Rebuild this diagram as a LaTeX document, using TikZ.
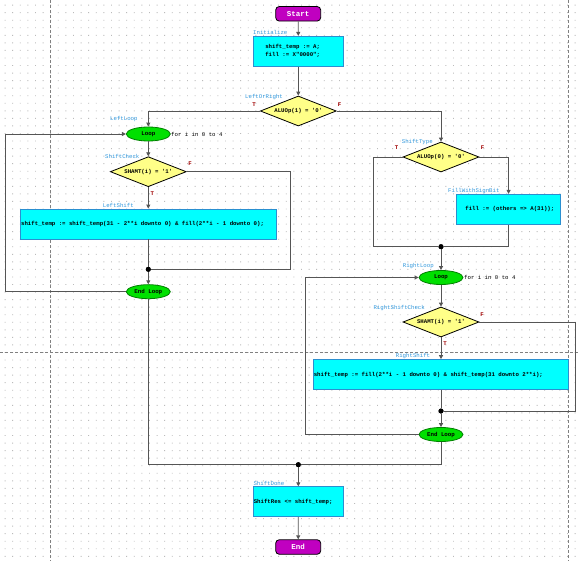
\documentclass[tikz,border=0pt]{standalone}
\usepackage{fontspec}
\newfontfamily\vh{Liberation Mono}
\newfontfamily\vhb{Liberation Mono Bold}
\usetikzlibrary{shapes.geometric,arrows.meta}
\definecolor{linec}{HTML}{555555}
\definecolor{termc}{HTML}{C000C0}
\definecolor{boxc}{HTML}{00FFFF}
\definecolor{boxb}{HTML}{2A8FD0}
\definecolor{decc}{HTML}{FFFF88}
\definecolor{loopc}{HTML}{00E000}
\definecolor{loopb}{HTML}{008000}
\definecolor{lblc}{HTML}{3399DD}
\definecolor{tfc}{HTML}{A00000}
\definecolor{dotc}{HTML}{BBBBBB}
\definecolor{dashc}{HTML}{808080}
\newcommand\qq{\textquotesingle}
\newcommand\bx[3]{\makebox[#1][l]{\hspace*{#2}#3}}
\tikzset{
  ln/.style={draw=linec, line width=0.9pt},
  arr/.style={-{Triangle[length=4pt,width=4pt]}},
  term/.style={draw=black, line width=0.8pt, fill=termc, rounded corners=3.5pt, minimum width=45pt, minimum height=14.5pt, inner sep=0pt, text=white, font=\vhb\fontsize{7.5}{8}\selectfont},
  actbox/.style={draw=boxb, line width=0.8pt, fill=boxc, inner sep=0pt, minimum height=30pt, font=\vhb\fontsize{5.7}{8}\selectfont},
  dec/.style={diamond, draw=black, line width=0.8pt, fill=decc, aspect=2.6, minimum width=76pt, minimum height=30pt, inner sep=0pt, font=\vhb\fontsize{5.7}{7}\selectfont},
  loopn/.style={ellipse, draw=loopb, line width=0.8pt, fill=loopc, minimum width=44pt, minimum height=14pt, inner sep=0pt, font=\vhb\fontsize{5.8}{7}\selectfont},
  lbl/.style={anchor=base west, text=lblc, font=\vh\fontsize{5.7}{7}\selectfont, inner sep=0pt},
  tf/.style={text=tfc, font=\vhb\fontsize{5.7}{7}\selectfont, inner sep=0pt},
  note/.style={anchor=west, font=\vh\fontsize{5.7}{7}\selectfont, inner sep=0pt},
  jn/.style={circle, fill=black, minimum size=5pt, inner sep=0pt},
}
\begin{document}
\begin{tikzpicture}[x=1pt,y=-1pt]
\useasboundingbox (0,0) rectangle (580,561);
\fill[white] (0,0) rectangle (580,561);
% grid
\fill[dotc] \foreach \i in {0,...,75}{\foreach \j in {0,...,73}{(4.6+7.6*\i,5.6+7.55*\j) rectangle ++(0.9,-0.9)}};
% page breaks
\draw[dashc, line width=0.7pt, dash pattern=on 3pt off 2pt] (50,0) -- (50,561);
\draw[dashc, line width=0.7pt, dash pattern=on 3pt off 2pt] (568.5,0) -- (568.5,561);
\draw[dashc, line width=0.7pt, dash pattern=on 3pt off 2pt] (0,352.3) -- (580,352.3);

% nodes
\node[term] (start) at (298.2,13.8) {Start};
\node[actbox, minimum width=90pt] (init) at (298.3,51.3) {\parbox{90pt}{\hspace*{12pt}shift\_temp := A;\\\hspace*{12pt}fill := X"0000";}};
\node[dec] (lor) at (298.3,111) {ALUOp(1) = \qq0\qq};
\node[loopn] (lloop) at (148.3,134) {Loop};
\node[dec] (lcheck) at (148.3,171.7) {SHAMT(i) = \qq1\qq};
\node[actbox, minimum width=255.3pt] (lshift) at (148.3,224) {\bx{255.3pt}{0.5pt}{shift\_temp := shift\_temp(31 - 2**i downto 0) \& fill(2**i - 1 downto 0);}};
\node[jn] (ljoin) at (148.3,269.3) {};
\node[loopn] (lend) at (148.3,291.7) {End Loop};

\node[dec] (stype) at (441,157) {ALUOp(0) = \qq0\qq};
\node[actbox, minimum width=104.5pt] (fill) at (508.6,209.3) {\bx{104.5pt}{9pt}{fill := (others => A(31));}};
\node[jn] (rjoin1) at (441,246.7) {};
\node[loopn] (rloop) at (441,277.5) {Loop};
\node[dec] (rcheck) at (441,322) {SHAMT(i) = \qq1\qq};
\node[actbox, minimum width=255.5pt] (rshift) at (441,374.5) {\bx{255.5pt}{0.5pt}{shift\_temp := fill(2**i - 1 downto 0) \& shift\_temp(31 downto 2**i);}};
\node[jn] (rjoin2) at (441,411) {};
\node[loopn] (rend) at (441,434.5) {End Loop};

\node[jn] (join) at (298.3,464.7) {};
\node[actbox, minimum width=90pt] (done) at (298.3,501.7) {\bx{90pt}{0.5pt}{ShiftRes <= shift\_temp;}};
\node[term] (end) at (298.2,547) {End};

% helper coordinates
\coordinate (lf) at (290.7,269.3);
\coordinate (lback) at (5.3,291.7);
\coordinate (tb) at (373.3,246.7);
\coordinate (rf) at (575,411);
\coordinate (rback) at (305.7,434.5);

% connectors
\draw[ln,arr] (start) -- (init);
\draw[ln,arr] (init) -- (lor);
\draw[ln,arr] (lor.west) -| (lloop.north);
\draw[ln,arr] (lor.east) -| (stype.north);
\draw[ln,arr] (lloop) -- (lcheck);
\draw[ln,arr] (lcheck.south) -- (lshift.north);
\draw[ln] (lshift.south) -- (ljoin);
\draw[ln] (lcheck.east) -| (lf) -- (ljoin);
\draw[ln,arr] (ljoin) -- (lend);
\draw[ln,arr] (lend.west) -- (lback) |- (lloop.west);
\draw[ln] (lend.south) |- (join);

\draw[ln] (stype.west) -| (tb) -- (rjoin1);
\draw[ln,arr] (stype.east) -| (fill.north);
\draw[ln] (fill.south) |- (rjoin1);
\draw[ln,arr] (rjoin1) -- (rloop);
\draw[ln,arr] (rloop) -- (rcheck);
\draw[ln,arr] (rcheck.south) -- (rshift.north);
\draw[ln] (rshift.south) -- (rjoin2);
\draw[ln] (rcheck.east) -| (rf) -- (rjoin2);
\draw[ln,arr] (rjoin2) -- (rend);
\draw[ln,arr] (rend.west) -- (rback) |- (rloop.west);
\draw[ln] (rend.south) |- (join);
\draw[ln,arr] (join) -- (done);
\draw[ln,arr] (done) -- (end);

% junction dots on top
\node[jn] at (ljoin) {};
\node[jn] at (rjoin1) {};
\node[jn] at (rjoin2) {};
\node[jn] at (join) {};

% labels
\node[lbl] (t1) at (253,34.5) {Initialize};
\node[lbl] (t2) at (245,98.5) {LeftOrRight};
\node[lbl] (t3) at (110,121) {LeftLoop};
\node[lbl] (t4) at (105,159) {ShiftCheck};
\node[lbl] (t5) at (102.7,207.5) {LeftShift};
\node[lbl] (t6) at (401.7,144) {ShiftType};
\node[lbl] (t7) at (448,192.5) {FillWithSignBit};
\node[lbl] (t8) at (402.7,267) {RightLoop};
\node[lbl] (t9) at (373.3,309) {RightShiftCheck};
\node[lbl] (t10) at (395.7,357) {RightShift};
\node[lbl] (t11) at (253.3,485.5) {ShiftDone};

\node[tf] (f1) at (254,104.3) {T};
\node[tf] (f2) at (339.5,104.3) {F};
\node[tf] (f3) at (190,163.3) {F};
\node[tf] (f4) at (152.3,194) {T};
\node[tf] (f5) at (396.7,148) {T};
\node[tf] (f6) at (482.7,148) {F};
\node[tf] (f7) at (482,315) {F};
\node[tf] (f8) at (445,344) {T};

\node[note] (n1) at (171,134) {for i in 0 to 4};
\node[note] (n2) at (464,277.5) {for i in 0 to 4};
\end{tikzpicture}
\end{document}
